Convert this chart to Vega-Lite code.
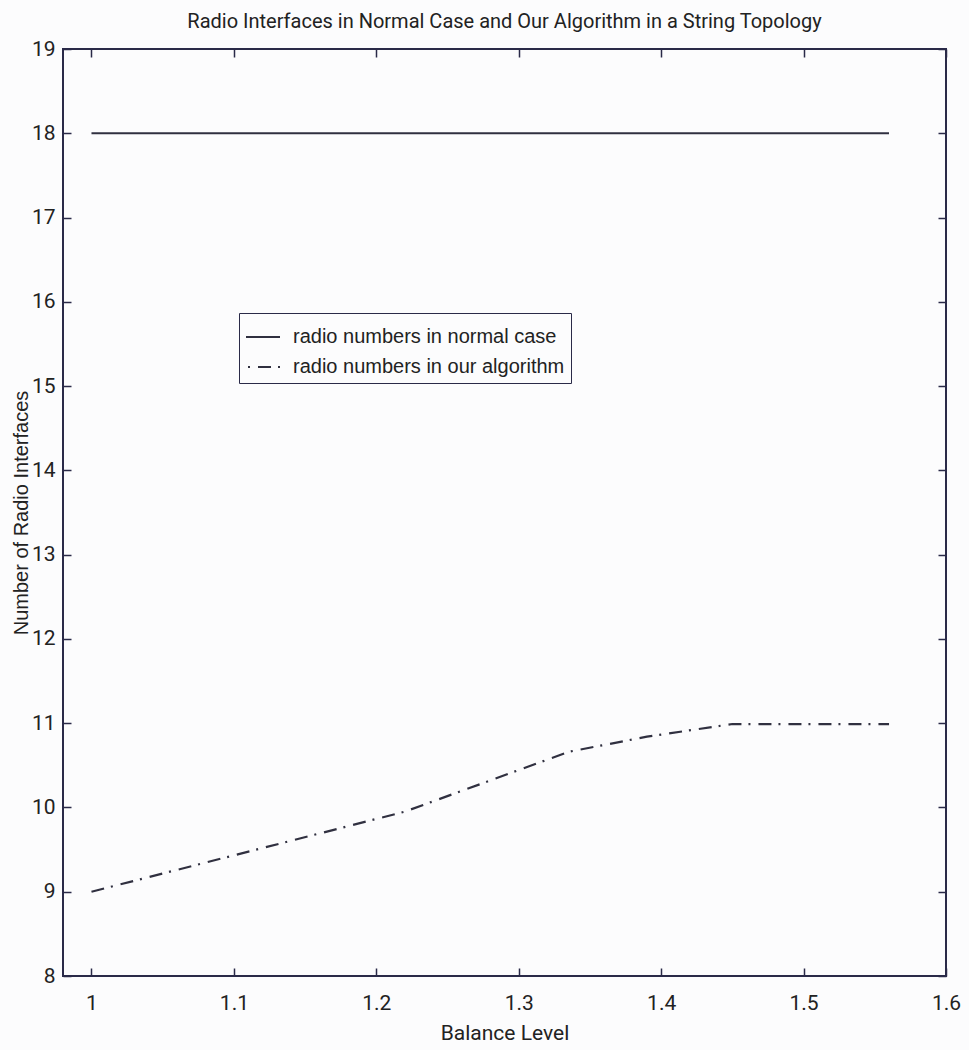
{
  "$schema": "https://vega.github.io/schema/vega-lite/v6.json",
  "autosize": "none",
  "width": 883,
  "height": 927,
  "padding": {"left": 63, "top": 49, "right": 23, "bottom": 74},
  "background": "#fcfcfd",
  "title": {
    "text": "Radio Interfaces in Normal Case and Our Algorithm in a String Topology",
    "font": "Roboto, Liberation Sans, sans-serif",
    "fontSize": 20,
    "fontWeight": "normal",
    "color": "#222222",
    "anchor": "middle",
    "offset": 6
  },
  "data": {
    "values": [
      {"level": 1.0, "radios": 18, "series": "radio numbers in normal case"},
      {"level": 1.56, "radios": 18, "series": "radio numbers in normal case"},
      {"level": 1.0, "radios": 9.0, "series": "radio numbers in our algorithm"},
      {"level": 1.22, "radios": 9.95, "series": "radio numbers in our algorithm"},
      {"level": 1.335, "radios": 10.66, "series": "radio numbers in our algorithm"},
      {"level": 1.39, "radios": 10.84, "series": "radio numbers in our algorithm"},
      {"level": 1.45, "radios": 10.99, "series": "radio numbers in our algorithm"},
      {"level": 1.56, "radios": 10.99, "series": "radio numbers in our algorithm"}
    ]
  },
  "layer": [
    {
      "mark": {"type": "line", "color": "#303040", "strokeWidth": 2.2},
      "encoding": {
        "x": {
          "field": "level", "type": "quantitative",
          "scale": {"domain": [0.98, 1.6], "nice": false, "zero": false},
          "axis": {
            "orient": "bottom",
            "title": "Balance Level",
            "values": [1, 1.1, 1.2, 1.3, 1.4, 1.5, 1.6],
            "format": ".2~f",
            "grid": false,
            "domain": false,
            "tickSize": -8,
            "tickWidth": 1.5,
            "tickColor": "#2a2a48",
            "labelPadding": 24,
            "labelFlush": false,
            "labelOverlap": false,
            "labelBound": false,
            "labelFont": "Roboto, Liberation Sans, sans-serif",
            "labelFontSize": 21,
            "labelColor": "#222222",
            "titleFont": "Roboto, Liberation Sans, sans-serif",
            "titleFontSize": 21,
            "titleFontWeight": "normal",
            "titleColor": "#222222",
            "titlePadding": 9
          }
        },
        "y": {
          "field": "radios", "type": "quantitative",
          "scale": {"domain": [8, 19], "nice": false, "zero": false},
          "axis": {
            "orient": "left",
            "title": "Number of Radio Interfaces",
            "values": [8, 9, 10, 11, 12, 13, 14, 15, 16, 17, 18, 19],
            "grid": false,
            "domain": false,
            "tickSize": -8,
            "tickWidth": 1.5,
            "tickColor": "#2a2a48",
            "labelPadding": 16,
            "labelOverlap": false,
            "labelBound": false,
            "labelFont": "Roboto, Liberation Sans, sans-serif",
            "labelFontSize": 21,
            "labelColor": "#222222",
            "titleFont": "Liberation Sans, Arial, sans-serif",
            "titleFontSize": 20,
            "titleFontWeight": "normal",
            "titleColor": "#222222",
            "titlePadding": 0
          }
        },
        "strokeDash": {
          "field": "series", "type": "nominal",
          "scale": {
            "domain": ["radio numbers in normal case", "radio numbers in our algorithm"],
            "range": [[1, 0], [13, 7, 2, 8]]
          },
          "legend": {
            "title": null,
            "orient": "none",
            "legendX": 176,
            "legendY": 264,
            "symbolType": "stroke",
            "symbolSize": 1156,
            "symbolStrokeColor": "#303040",
            "symbolStrokeWidth": 2,
            "symbolDashOffset": 18,
            "labelFont": "Liberation Sans, Arial, sans-serif",
            "labelFontSize": 20,
            "labelColor": "#222222",
            "labelOffset": 12,
            "labelLimit": 400,
            "rowPadding": 2,
            "padding": 6,
            "strokeColor": "#2a2a48",
            "fillColor": "#fcfcfd"
          }
        }
      }
    },
    {
      "mark": {"type": "point", "opacity": 0},
      "encoding": {
        "x": {
          "field": "level", "type": "quantitative",
          "axis": {
            "orient": "top", "title": null, "labels": false, "domain": false, "grid": false,
            "values": [1, 1.1, 1.2, 1.3, 1.4, 1.5, 1.6],
            "tickSize": -8, "tickWidth": 1.5, "tickColor": "#2a2a48"
          }
        },
        "y": {
          "field": "radios", "type": "quantitative",
          "axis": {
            "orient": "right", "title": null, "labels": false, "domain": false, "grid": false,
            "values": [8, 9, 10, 11, 12, 13, 14, 15, 16, 17, 18, 19],
            "tickSize": -8, "tickWidth": 1.5, "tickColor": "#2a2a48"
          }
        }
      }
    }
  ],
  "resolve": {"axis": {"x": "independent", "y": "independent"}},
  "config": {
    "view": {"stroke": "#2a2a48", "strokeWidth": 2}
  }
}
